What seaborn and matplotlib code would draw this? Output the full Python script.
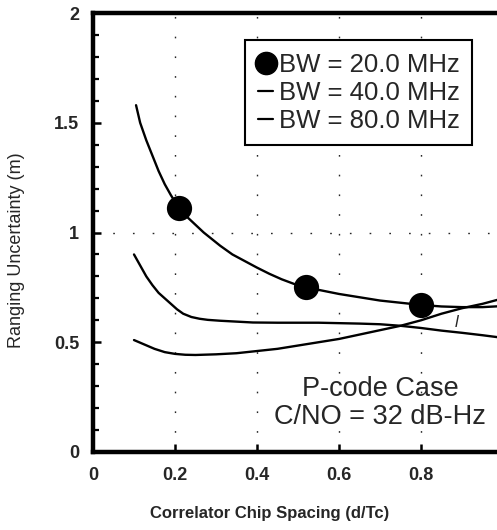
import matplotlib
matplotlib.use("Agg")
import matplotlib.pyplot as plt
from matplotlib.lines import Line2D
import numpy as np
import pandas as pd
import seaborn as sns

# Ranging uncertainty versus correlator chip spacing, three receiver bandwidths
spacing_20 = [0.105, 0.115, 0.13, 0.145, 0.16, 0.175, 0.19, 0.21, 0.23, 0.25,
              0.27, 0.29, 0.31, 0.34, 0.37, 0.40, 0.43, 0.46, 0.49, 0.52,
              0.56, 0.60, 0.65, 0.70, 0.75, 0.80, 0.85, 0.90, 0.95, 1.00]
sigma_20 = [1.58, 1.50, 1.42, 1.35, 1.28, 1.22, 1.17, 1.11, 1.07, 1.035,
            1.00, 0.97, 0.94, 0.90, 0.87, 0.84, 0.812, 0.787, 0.766, 0.75,
            0.735, 0.72, 0.705, 0.69, 0.68, 0.67, 0.663, 0.66, 0.66, 0.665]

marker_spacing_20 = [0.21, 0.52, 0.80]
marker_sigma_20 = [1.11, 0.75, 0.67]

spacing_40 = [0.10, 0.115, 0.13, 0.145, 0.16, 0.175, 0.19, 0.205, 0.22, 0.24,
              0.26, 0.28, 0.31, 0.35, 0.39, 0.45, 0.50, 0.55, 0.60, 0.65,
              0.70, 0.75, 0.80, 0.85, 0.90, 0.95, 1.00]
sigma_40 = [0.90, 0.85, 0.80, 0.76, 0.725, 0.70, 0.675, 0.65, 0.63, 0.615,
            0.607, 0.602, 0.598, 0.594, 0.59, 0.589, 0.589, 0.589, 0.587, 0.585,
            0.582, 0.575, 0.565, 0.553, 0.543, 0.532, 0.52]

spacing_80 = [0.10, 0.125, 0.15, 0.175, 0.20, 0.225, 0.25, 0.30, 0.35, 0.40,
              0.45, 0.50, 0.55, 0.60, 0.65, 0.70, 0.75, 0.80, 0.85, 0.90,
              0.95, 1.00]
sigma_80 = [0.51, 0.49, 0.47, 0.455, 0.447, 0.443, 0.442, 0.445, 0.45, 0.46,
            0.47, 0.485, 0.50, 0.515, 0.535, 0.555, 0.575, 0.60, 0.63, 0.655,
            0.675, 0.70]

legend_labels = ["BW = 20.0 MHz", "BW = 40.0 MHz", "BW = 80.0 MHz"]
x_ticks = [0, 0.2, 0.4, 0.6, 0.8, 1.0]
x_tick_labels = ["0", "0.2", "0.4", "0.6", "0.8", "1"]
y_ticks = [0, 0.5, 1.0, 1.5, 2.0]
y_tick_labels = ["0", "0.5", "1", "1.5", "2"]

sns.set_theme(style="ticks")
plt.rcParams["font.family"] = ["Liberation Sans", "DejaVu Sans"]

fig = plt.figure(figsize=(4.97, 5.30), dpi=100)
ax = fig.add_axes([93 / 497, 78 / 530, 410 / 497, 439 / 530])

df20 = pd.DataFrame({"d": spacing_20, "s": sigma_20})
df40 = pd.DataFrame({"d": spacing_40, "s": sigma_40})
df80 = pd.DataFrame({"d": spacing_80, "s": sigma_80})
dfm = pd.DataFrame({"d": marker_spacing_20, "s": marker_sigma_20})

# sparse dotted grid
for xv in [0.2, 0.4, 0.6, 0.8]:
    ax.axvline(xv, color="0.15", lw=1.0, ls=(0, (1.2, 13)), zorder=0)
ax.axhline(1.0, color="0.15", lw=1.0, ls=(0, (1.2, 13)), zorder=0)

line_kw = dict(color="black", linewidth=1.7, sort=False, estimator=None,
               legend=False, ax=ax)
sns.lineplot(data=df20, x="d", y="s", **line_kw)
sns.lineplot(data=df40, x="d", y="s", **line_kw)
sns.lineplot(data=df80, x="d", y="s", **line_kw)
sns.scatterplot(data=dfm, x="d", y="s", color="black", s=330,
                edgecolor="black", linewidth=0, zorder=5, legend=False, ax=ax)

ax.set_xlim(0, 1.0)
ax.set_ylim(0, 2.0)
ax.set_xticks(x_ticks)
ax.set_xticklabels(x_tick_labels)
ax.set_yticks(y_ticks)
ax.set_yticklabels(y_tick_labels)
ax.set_yticks(np.arange(0, 2.0001, 0.1), minor=True)

for lbl in ax.get_xticklabels() + ax.get_yticklabels():
    lbl.set_fontweight("bold")
    lbl.set_fontsize(13)

ax.tick_params(axis="both", which="major", direction="in", length=6,
               width=1.8, color="black")
ax.tick_params(axis="y", which="minor", direction="in", length=4,
               width=1.6, color="black")
ax.tick_params(axis="y", which="major", pad=10)
ax.tick_params(axis="x", which="major", pad=11)

for side in ["left", "bottom", "top"]:
    ax.spines[side].set_visible(True)
    ax.spines[side].set_linewidth(3.2)
    ax.spines[side].set_color("black")
ax.spines["right"].set_visible(False)

ax.set_xlabel("Correlator Chip Spacing (d/Tc)", fontsize=12,
              fontweight="bold")
ax.xaxis.set_label_coords(0.43, -0.123)
ax.set_ylabel("Ranging Uncertainty (m)", fontsize=13)
ax.yaxis.set_label_coords(-0.165, 0.46)

handles = [
    Line2D([], [], color="black", marker="o", markersize=16, linestyle="none"),
    Line2D([], [], color="black", linewidth=1.6),
    Line2D([], [], color="black", linewidth=1.6),
]
leg = ax.legend(handles, legend_labels, loc="upper left",
                bbox_to_anchor=(0.371, 0.9385), borderaxespad=0,
                fontsize=18.5, frameon=True, fancybox=False, framealpha=1,
                edgecolor="black", handlelength=0.6, handletextpad=0.2,
                labelspacing=0.15, borderpad=0.5)
leg.get_frame().set_linewidth(1.5)

ax.text(0.70, 0.225, "P-code Case\nC/NO = 32 dB-Hz", ha="center",
        va="center", fontsize=19.5, linespacing=1.1)
ax.text(0.888, 0.59, "l", fontsize=12, style="italic", ha="center",
        va="center")

fig.savefig("out.png", dpi=100)
